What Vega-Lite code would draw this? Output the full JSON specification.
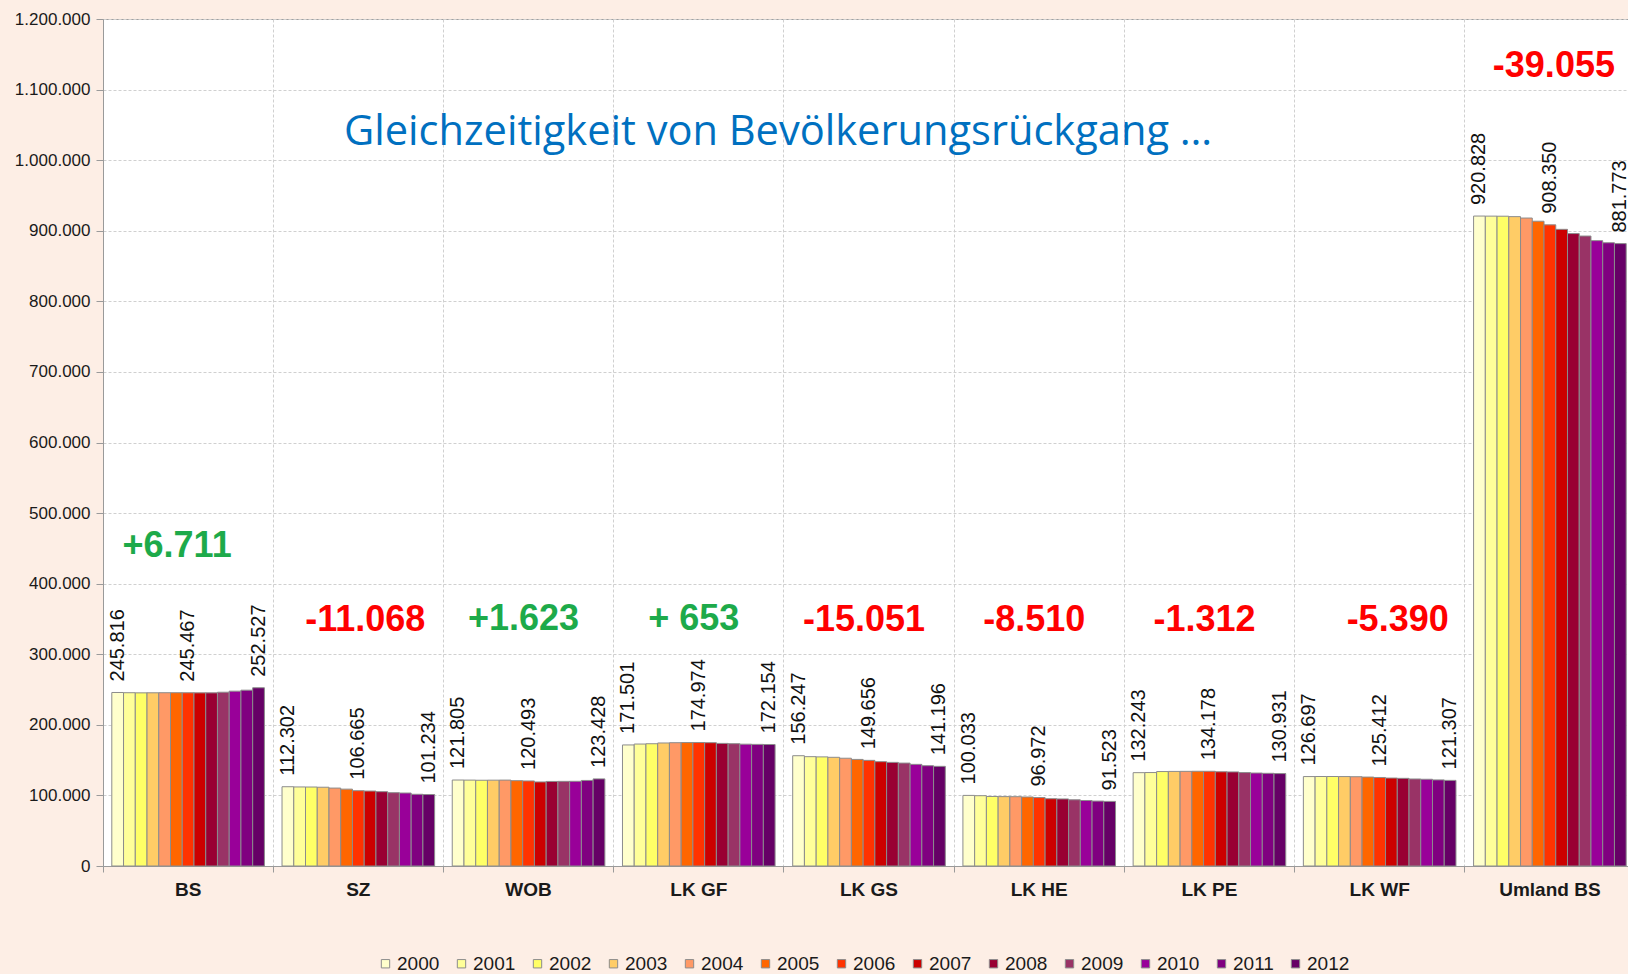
{
  "$schema": "https://vega.github.io/schema/vega-lite/v6.json",
  "width": 1532,
  "height": 847,
  "autosize": {"type": "none"},
  "padding": {"left": 103, "top": 19, "right": 0, "bottom": 108},
  "background": "#FDEEE5",
  "title": {"text": "Gleichzeitigkeit von Bevölkerungsrückgang …", "anchor": "start", "frame": "group", "orient": "top", "offset": 0, "dx": 241, "dy": 144, "font": "Open Sans", "fontSize": 41.6, "fontWeight": "normal", "color": "#0070C0"},
  "datasets": {
    "pop": [
      {"region": "BS", "year": 2000, "value": 245816}, {"region": "BS", "year": 2001, "value": 245500}, {"region": "BS", "year": 2002, "value": 245300}, {"region": "BS", "year": 2003, "value": 245400}, {"region": "BS", "year": 2004, "value": 245500}, {"region": "BS", "year": 2005, "value": 245500}, {"region": "BS", "year": 2006, "value": 245467}, {"region": "BS", "year": 2007, "value": 245300}, {"region": "BS", "year": 2008, "value": 245300}, {"region": "BS", "year": 2009, "value": 246200}, {"region": "BS", "year": 2010, "value": 247700}, {"region": "BS", "year": 2011, "value": 249100}, {"region": "BS", "year": 2012, "value": 252527},
      {"region": "SZ", "year": 2000, "value": 112302}, {"region": "SZ", "year": 2001, "value": 112000}, {"region": "SZ", "year": 2002, "value": 111900}, {"region": "SZ", "year": 2003, "value": 111600}, {"region": "SZ", "year": 2004, "value": 110400}, {"region": "SZ", "year": 2005, "value": 108900}, {"region": "SZ", "year": 2006, "value": 106665}, {"region": "SZ", "year": 2007, "value": 106200}, {"region": "SZ", "year": 2008, "value": 105300}, {"region": "SZ", "year": 2009, "value": 103900}, {"region": "SZ", "year": 2010, "value": 103400}, {"region": "SZ", "year": 2011, "value": 101600}, {"region": "SZ", "year": 2012, "value": 101234},
      {"region": "WOB", "year": 2000, "value": 121805}, {"region": "WOB", "year": 2001, "value": 121700}, {"region": "WOB", "year": 2002, "value": 121500}, {"region": "WOB", "year": 2003, "value": 121600}, {"region": "WOB", "year": 2004, "value": 121700}, {"region": "WOB", "year": 2005, "value": 120900}, {"region": "WOB", "year": 2006, "value": 120493}, {"region": "WOB", "year": 2007, "value": 119100}, {"region": "WOB", "year": 2008, "value": 119800}, {"region": "WOB", "year": 2009, "value": 119900}, {"region": "WOB", "year": 2010, "value": 120000}, {"region": "WOB", "year": 2011, "value": 121200}, {"region": "WOB", "year": 2012, "value": 123428},
      {"region": "LK GF", "year": 2000, "value": 171501}, {"region": "LK GF", "year": 2001, "value": 172800}, {"region": "LK GF", "year": 2002, "value": 173200}, {"region": "LK GF", "year": 2003, "value": 174300}, {"region": "LK GF", "year": 2004, "value": 174700}, {"region": "LK GF", "year": 2005, "value": 174900}, {"region": "LK GF", "year": 2006, "value": 174974}, {"region": "LK GF", "year": 2007, "value": 174700}, {"region": "LK GF", "year": 2008, "value": 173700}, {"region": "LK GF", "year": 2009, "value": 173300}, {"region": "LK GF", "year": 2010, "value": 172600}, {"region": "LK GF", "year": 2011, "value": 172300}, {"region": "LK GF", "year": 2012, "value": 172154},
      {"region": "LK GS", "year": 2000, "value": 156247}, {"region": "LK GS", "year": 2001, "value": 154900}, {"region": "LK GS", "year": 2002, "value": 154600}, {"region": "LK GS", "year": 2003, "value": 154000}, {"region": "LK GS", "year": 2004, "value": 152700}, {"region": "LK GS", "year": 2005, "value": 151000}, {"region": "LK GS", "year": 2006, "value": 149656}, {"region": "LK GS", "year": 2007, "value": 147800}, {"region": "LK GS", "year": 2008, "value": 146800}, {"region": "LK GS", "year": 2009, "value": 145800}, {"region": "LK GS", "year": 2010, "value": 144000}, {"region": "LK GS", "year": 2011, "value": 142100}, {"region": "LK GS", "year": 2012, "value": 141196},
      {"region": "LK HE", "year": 2000, "value": 100033}, {"region": "LK HE", "year": 2001, "value": 99600}, {"region": "LK HE", "year": 2002, "value": 98500}, {"region": "LK HE", "year": 2003, "value": 98300}, {"region": "LK HE", "year": 2004, "value": 98200}, {"region": "LK HE", "year": 2005, "value": 97800}, {"region": "LK HE", "year": 2006, "value": 96972}, {"region": "LK HE", "year": 2007, "value": 95300}, {"region": "LK HE", "year": 2008, "value": 95000}, {"region": "LK HE", "year": 2009, "value": 93800}, {"region": "LK HE", "year": 2010, "value": 92800}, {"region": "LK HE", "year": 2011, "value": 92000}, {"region": "LK HE", "year": 2012, "value": 91523},
      {"region": "LK PE", "year": 2000, "value": 132243}, {"region": "LK PE", "year": 2001, "value": 132400}, {"region": "LK PE", "year": 2002, "value": 133800}, {"region": "LK PE", "year": 2003, "value": 134000}, {"region": "LK PE", "year": 2004, "value": 134100}, {"region": "LK PE", "year": 2005, "value": 134200}, {"region": "LK PE", "year": 2006, "value": 134178}, {"region": "LK PE", "year": 2007, "value": 133500}, {"region": "LK PE", "year": 2008, "value": 133300}, {"region": "LK PE", "year": 2009, "value": 132400}, {"region": "LK PE", "year": 2010, "value": 131700}, {"region": "LK PE", "year": 2011, "value": 131300}, {"region": "LK PE", "year": 2012, "value": 130931},
      {"region": "LK WF", "year": 2000, "value": 126697}, {"region": "LK WF", "year": 2001, "value": 126800}, {"region": "LK WF", "year": 2002, "value": 126800}, {"region": "LK WF", "year": 2003, "value": 126700}, {"region": "LK WF", "year": 2004, "value": 126500}, {"region": "LK WF", "year": 2005, "value": 126000}, {"region": "LK WF", "year": 2006, "value": 125412}, {"region": "LK WF", "year": 2007, "value": 124600}, {"region": "LK WF", "year": 2008, "value": 124200}, {"region": "LK WF", "year": 2009, "value": 123300}, {"region": "LK WF", "year": 2010, "value": 122900}, {"region": "LK WF", "year": 2011, "value": 122000}, {"region": "LK WF", "year": 2012, "value": 121307},
      {"region": "Umland BS", "year": 2000, "value": 920828}, {"region": "Umland BS", "year": 2001, "value": 920700}, {"region": "Umland BS", "year": 2002, "value": 920600}, {"region": "Umland BS", "year": 2003, "value": 920000}, {"region": "Umland BS", "year": 2004, "value": 918000}, {"region": "Umland BS", "year": 2005, "value": 913500}, {"region": "Umland BS", "year": 2006, "value": 908350}, {"region": "Umland BS", "year": 2007, "value": 902000}, {"region": "Umland BS", "year": 2008, "value": 896000}, {"region": "Umland BS", "year": 2009, "value": 892500}, {"region": "Umland BS", "year": 2010, "value": 886000}, {"region": "Umland BS", "year": 2011, "value": 883000}, {"region": "Umland BS", "year": 2012, "value": 881773}
    ],
    "changes": [
      {"region": "BS", "label": "+6.711"},
      {"region": "SZ", "label": "-11.068"},
      {"region": "WOB", "label": "+1.623"},
      {"region": "LK GF", "label": "+ 653"},
      {"region": "LK GS", "label": "-15.051"},
      {"region": "LK HE", "label": "-8.510"},
      {"region": "LK PE", "label": "-1.312"},
      {"region": "LK WF", "label": "-5.390"},
      {"region": "Umland BS", "label": "-39.055"}
    ]
  },
  "layer": [
    {
      "data": {"name": "pop"},
      "mark": {"type": "bar", "stroke": "#8c8c8c", "strokeWidth": 1},
      "encoding": {
        "x": {"field": "region", "type": "nominal", "title": null,
          "scale": {"domain": ["BS", "SZ", "WOB", "LK GF", "LK GS", "LK HE", "LK PE", "LK WF", "Umland BS"], "paddingInner": 0, "paddingOuter": 0},
          "axis": {"labelAngle": 0, "labelFontWeight": "bold", "labelFontSize": 19, "bandPosition": 0, "labelOffset": 0, "tickSize": 6, "labelPadding": 8, "grid": true}},
        "xOffset": {"field": "year", "type": "ordinal",
          "scale": {"domain": [2000, 2001, 2002, 2003, 2004, 2005, 2006, 2007, 2008, 2009, 2010, 2011, 2012], "paddingInner": 0, "paddingOuter": 0.75}},
        "y": {"field": "value", "type": "quantitative", "title": null,
          "scale": {"domain": [0, 1200000], "nice": false},
          "axis": {"values": [0, 100000, 200000, 300000, 400000, 500000, 600000, 700000, 800000, 900000, 1000000, 1100000, 1200000], "format": ",d", "labelFontSize": 17, "tickSize": 7, "labelPadding": 6, "grid": true}},
        "color": {"field": "year", "type": "ordinal",
          "scale": {"domain": [2000, 2001, 2002, 2003, 2004, 2005, 2006, 2007, 2008, 2009, 2010, 2011, 2012],
            "range": ["#FFFFCC", "#FFFF99", "#FFFF66", "#FFCC66", "#FF9966", "#FF6600", "#FF3300", "#CC0000", "#990033", "#993366", "#990099", "#800080", "#660066"]},
          "legend": {"title": null, "orient": "none", "legendX": 273, "legendY": 935, "direction": "horizontal", "columns": 13, "symbolType": "square", "symbolSize": 70, "symbolStrokeColor": "#8c8c8c", "symbolStrokeWidth": 1, "labelFontSize": 19, "labelColor": "#1a1a1a", "columnPadding": 12, "labelOffset": 2}}
      }
    },
    {
      "data": {"name": "pop"},
      "transform": [{"filter": "datum.year == 2000 || datum.year == 2006 || datum.year == 2012"}],
      "mark": {"type": "text", "angle": 270, "align": "left", "baseline": "middle", "dx": 11, "fontSize": 20, "color": "#111111"},
      "encoding": {
        "x": {"field": "region", "type": "nominal"},
        "xOffset": {"field": "year", "type": "ordinal"},
        "y": {"field": "value", "type": "quantitative", "title": null},
        "text": {"field": "value", "type": "quantitative", "format": ",d"}
      }
    },
    {
      "data": {"name": "changes"},
      "transform": [{"filter": "datum.region == 'BS'"}],
      "mark": {"type": "text", "align": "center", "baseline": "middle", "dx": -11, "fontSize": 36, "fontWeight": "bold", "color": "#1DAA4A"},
      "encoding": {
        "x": {"field": "region", "type": "nominal"},
        "y": {"datum": 453000},
        "text": {"field": "label"}
      }
    },
    {
      "data": {"name": "changes"},
      "transform": [{"filter": "datum.region == 'WOB' || datum.region == 'LK GF'"}],
      "mark": {"type": "text", "align": "center", "baseline": "middle", "dx": -5, "fontSize": 36, "fontWeight": "bold", "color": "#1DAA4A"},
      "encoding": {
        "x": {"field": "region", "type": "nominal"},
        "y": {"datum": 350000},
        "text": {"field": "label"}
      }
    },
    {
      "data": {"name": "changes"},
      "transform": [{"filter": "datum.region == 'SZ'"}],
      "mark": {"type": "text", "align": "center", "baseline": "middle", "dx": 7, "fontSize": 36, "fontWeight": "bold", "color": "#FF0000"},
      "encoding": {
        "x": {"field": "region", "type": "nominal"},
        "y": {"datum": 348000},
        "text": {"field": "label"}
      }
    },
    {
      "data": {"name": "changes"},
      "transform": [{"filter": "datum.region == 'LK GS' || datum.region == 'LK HE' || datum.region == 'LK PE'"}],
      "mark": {"type": "text", "align": "center", "baseline": "middle", "dx": -5, "fontSize": 36, "fontWeight": "bold", "color": "#FF0000"},
      "encoding": {
        "x": {"field": "region", "type": "nominal"},
        "y": {"datum": 348000},
        "text": {"field": "label"}
      }
    },
    {
      "data": {"name": "changes"},
      "transform": [{"filter": "datum.region == 'LK WF'"}],
      "mark": {"type": "text", "align": "center", "baseline": "middle", "dx": 18, "fontSize": 36, "fontWeight": "bold", "color": "#FF0000"},
      "encoding": {
        "x": {"field": "region", "type": "nominal"},
        "y": {"datum": 348000},
        "text": {"field": "label"}
      }
    },
    {
      "data": {"name": "changes"},
      "transform": [{"filter": "datum.region == 'Umland BS'"}],
      "mark": {"type": "text", "align": "center", "baseline": "middle", "dx": 4, "fontSize": 36, "fontWeight": "bold", "color": "#FF0000"},
      "encoding": {
        "x": {"field": "region", "type": "nominal"},
        "y": {"datum": 1133000},
        "text": {"field": "label"}
      }
    }
  ],
  "config": {
    "locale": {"number": {"decimal": ",", "thousands": ".", "grouping": [3], "currency": ["", " €"]}},
    "font": "Liberation Sans",
    "view": {"fill": "white", "stroke": "#a0a0a0"},
    "axis": {"gridColor": "#d0d0d0", "gridDash": [3, 2], "gridWidth": 1, "domainColor": "#9a9a9a", "tickColor": "#9a9a9a", "labelColor": "#1a1a1a", "labelFont": "Liberation Sans"},
    "text": {"font": "Liberation Sans"}
  }
}
